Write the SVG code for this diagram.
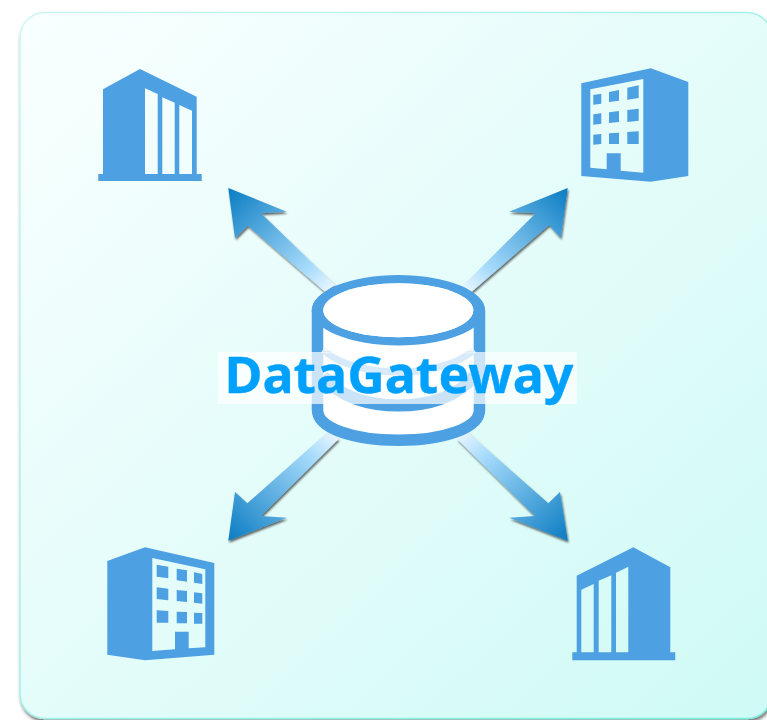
<svg xmlns="http://www.w3.org/2000/svg" width="767" height="720" viewBox="0 0 767 720">
<style>
.b{fill:#4da0e2;fill-rule:evenodd}
.label{font-family:"Noto Sans","Liberation Sans",sans-serif;font-weight:700;font-size:50px;fill:#00a0fd;stroke:#00a0fd;stroke-width:.3}
</style>
<defs>
<linearGradient id="bg" x1="0" y1="0" x2="1" y2="1"><stop offset="0" stop-color="#f9ffff"/><stop offset="1" stop-color="#cffaf5"/></linearGradient>
<linearGradient id="edge" x1="0" y1="0" x2="1" y2="1"><stop offset="0" stop-color="#cdf5f1"/><stop offset="1" stop-color="#78efe0"/></linearGradient>
<linearGradient id="faint" gradientUnits="userSpaceOnUse" x1="0" y1="351" x2="0" y2="354"><stop offset="0" stop-color="#f0f5fb"/><stop offset="1" stop-color="#7ab8ea"/></linearGradient>
<linearGradient id="a1" gradientUnits="userSpaceOnUse" x1="330" y1="288" x2="228" y2="188"><stop offset="0" stop-color="#e6f4ff"/><stop offset=".2" stop-color="#a8dcfc"/><stop offset="1" stop-color="#0a7cc2"/></linearGradient>
<linearGradient id="a2" gradientUnits="userSpaceOnUse" x1="466" y1="288" x2="568" y2="188"><stop offset="0" stop-color="#e6f4ff"/><stop offset=".2" stop-color="#a8dcfc"/><stop offset="1" stop-color="#0a7cc2"/></linearGradient>
<linearGradient id="a3" gradientUnits="userSpaceOnUse" x1="334" y1="435" x2="228" y2="541"><stop offset="0" stop-color="#e6f4ff"/><stop offset=".2" stop-color="#a8dcfc"/><stop offset="1" stop-color="#0a7cc2"/></linearGradient>
<linearGradient id="a4" gradientUnits="userSpaceOnUse" x1="462" y1="435" x2="568" y2="541"><stop offset="0" stop-color="#e6f4ff"/><stop offset=".2" stop-color="#a8dcfc"/><stop offset="1" stop-color="#0a7cc2"/></linearGradient>
<filter id="sh" x="-20%" y="-20%" width="140%" height="140%"><feDropShadow dx="1" dy="2" stdDeviation="1.300" flood-color="#000" flood-opacity=".6"/></filter>
<filter id="ps" x="-5%" y="-5%" width="110%" height="110%"><feDropShadow dx="1" dy="3" stdDeviation="1.500" flood-color="#000" flood-opacity=".5"/></filter>
</defs>
<rect width="767" height="720" fill="#fff"/>
<rect id="panel" x="20" y="12.500" width="752" height="706" rx="25" fill="url(#bg)" stroke="url(#edge)" stroke-width="1.500" filter="url(#ps)"/>
<g id="connectors" filter="url(#sh)">
<path fill="url(#a1)" d="M228.300 188L286.700 211.700L261 213.300L335 285L325 291.700L247.700 225.700L235 238.300Z"/>
<path fill="url(#a2)" d="M567.700 188L509 211.700L535.700 213.300L461.700 286.700L471.700 291.700L549 225L560.700 237.700Z"/>
<path fill="url(#a3)" d="M228.300 540.700L286.700 517.700L261 516L338.300 439.300L329 430.700L247.300 503.300L235 492Z"/>
<path fill="url(#a4)" d="M567.700 540.700L509.300 517.700L535 516L457.300 439.300L466 430.700L548.300 503.300L560 492Z"/>
</g>
<g id="building-top-left"><path class="b" d="M103 89.300L140 69L196.700 96.700V174H201.700V181H98.300V174H103ZM145 88.300V174H157.700V94ZM162.300 97.300V174H174.700V102.700ZM179.300 105V174H192V110.700Z"/></g>
<g id="building-top-right"><path class="b" d="M581.300 83.300L650.700 68.300L688.300 82V176L650.700 181.700L581.300 176ZM590.300 89.300V167.700L606.700 169.300V153.300H620.700V170.700L643.300 172.700V79ZM593.300 95L601.300 93.700V103.700L593.300 104.700ZM609 92L619 90V100.700L609 102ZM627.300 87.700L638.700 85.300V98L627.300 99.700ZM593.300 114.300L601.300 113.300V123.700L593.300 124.700ZM609 112.300L619 111V122L609 123ZM627.300 110L638.700 108.700V120.700L627.300 122ZM593.300 134.700L601.300 134V144L593.300 144.700ZM609 133.300L619 132.700V144H609ZM627.300 132L638.700 131.300V144H627.300Z"/></g>
<g id="database">
<path d="M323.300 310.300V410C323.300 425 357 435 398.500 435S473.300 425 473.300 410V310.300Z" fill="#fff"/>
<path d="M317.500 310.500V410C317.500 428 353 440.300 398.500 440.300S479.500 428 479.500 410V310.500" fill="none" stroke="#4da0e2" stroke-width="11.500"/>
<path d="M323 350C340 365 370 372 398.500 372S457 365 474 350" fill="none" stroke="url(#faint)" stroke-width="7"/>
<path d="M323 376C340 398 370 405.500 398.500 405.500S457 398 474 376" fill="none" stroke="#4da0e2" stroke-width="12"/>
<path class="b" d="M311.700 310.200A86.700 35.200 0 0 1 485.100 310.200A86.700 35.200 0 0 1 311.700 310.200ZM323.300 310.300A75 27 0 0 0 473.300 310.300A75 27 0 0 0 323.300 310.300Z"/>
<ellipse cx="398.300" cy="310.300" rx="75" ry="27" fill="#fff"/>
</g>
<g id="building-bottom-left"><path class="b" d="M107.300 561L145 547.300L214.300 563V654.700L145 660.300L107.300 654.700ZM152.300 558V651L175 649.300V631.700H188.700V648.300L205.300 647.300V569.300ZM156.700 564.700L168.300 566.700V578.300L156.700 576.700ZM176.700 568.700L187 570.300V581.700L176.700 580.300ZM194 572.300L202.300 574V584L194 582.700ZM156.700 587.300L168.300 588.700V600.300L156.700 599ZM176.700 590L187 591V602L176.700 601ZM194 592.300L202.300 593.300V603.700L194 602.700ZM156.700 610.300L168.300 611V622.700H156.700ZM176.700 611.700L187 612V623.300H176.700ZM194 612.700L202.300 613V623.700H194Z"/></g>
<g id="building-bottom-right"><path class="b" d="M576.700 575.700L633.300 547.300L670.300 567.300V652.300H675.300V660.300H572.300V652.300H576.700ZM581.300 589.700V652.300H593.700V584ZM598.700 580.700V652.300H611.300V575.300ZM616 572.700V652.300H628.300V566.700Z"/></g>
<g id="label">
<rect x="218" y="352" width="358.700" height="52" fill="#fff" fill-opacity=".7"/>
<text class="label" x="224.500" y="392.500" textLength="349" lengthAdjust="spacingAndGlyphs">DataGateway</text>
</g>
</svg>
